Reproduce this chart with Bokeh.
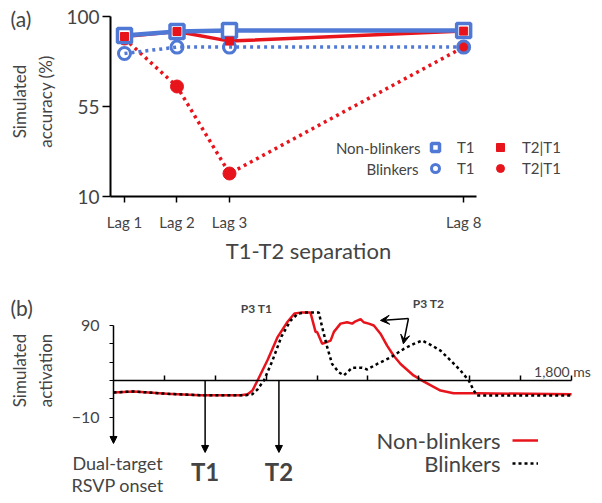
import math
from bokeh.plotting import figure
from bokeh.layouts import column
from bokeh.models import (FixedTicker, Label, Legend, LegendItem, Arrow,
                          NormalHead, VeeHead, Range1d)
from bokeh.embed import file_html
from bokeh.resources import INLINE

FONT = "Lato"
BLUE = "#5079d6"
RED = "#e8141c"

# ---------------- panel (a) data ----------------
lag_labels = ["Lag 1", "Lag 2", "Lag 3", "Lag 8"]
lag_pos = [1, 2, 3, 7.46]
acc_ticks = [10, 55, 100]
nb_t1 = [90.5, 92.5, 93, 93]
nb_t2 = [90, 92.5, 87.7, 92.7]
b_t1 = [81.5, 84.7, 84.7, 84.7]
b_t2 = [89, 65, 21.5, 84.7]

# ---------------- panel (b) data ----------------
t_nb = [0, 80, 210, 340, 500, 527, 546, 566, 605, 644, 684, 711, 735, 774, 794,
        800, 820, 853, 866, 892, 918, 938, 951, 971, 983, 1003, 1023, 1049, 1075,
        1101, 1128, 1179, 1218, 1285, 1336, 1430, 1800]
v_nb = [17, 18, 15.5, 14, 14, 15, 19, 30, 52, 77, 94, 103, 104, 104, 83,
        83, 70, 73.5, 83, 92, 93.5, 92, 94.5, 97, 93.5, 92, 90, 81, 68,
        57, 48, 35.5, 29, 19, 16, 16, 15]
t_b = [0, 80, 210, 340, 520, 545, 565, 591, 625, 660, 695, 725, 750, 807, 820,
       840, 859, 885, 905, 938, 977, 997, 1036, 1088, 1141, 1180, 1213, 1252,
       1285, 1324, 1363, 1396, 1416, 1429, 1800]
v_b = [17, 18, 15.5, 14, 14, 15, 20, 30, 52, 78, 95, 103, 104, 104, 88,
       66, 48, 39, 35.5, 44, 44, 42, 48, 55, 64.5, 70, 73.5, 68,
       62.5, 52, 41, 30, 19, 13.5, 13.5]
act_ticks = [-10, 90]
act_minor = [10, 30, 50, 70]
time_ticks = [200, 400, 600, 800, 1000, 1200, 1400, 1600, 1800]
baseline = 30
t1_time = 360
t2_time = 650


def style_axis(a, lw, tick_lw, out, inn, standoff, font_size):
    a.axis_line_width = lw
    a.major_tick_line_width = tick_lw
    a.major_tick_out = out
    a.major_tick_in = inn
    a.minor_tick_line_color = None
    a.major_label_standoff = standoff
    a.major_label_text_font = FONT
    a.major_label_text_font_size = font_size


# ================= figure (a) =================
fa = figure(width=600, height=266, output_backend="svg", toolbar_location=None,
            x_range=Range1d(-1.3619, 10.067), y_range=Range1d(-25, 108),
            min_border_left=0, min_border_right=0, min_border_top=0,
            min_border_bottom=0)
fa.outline_line_color = None
fa.xgrid.visible = False
fa.ygrid.visible = False

fa.line(lag_pos, b_t2, color=RED, line_width=3.5, line_dash="3 4")
fa.line(lag_pos, nb_t2, color=RED, line_width=3.5)
fa.line(lag_pos, b_t1, color=BLUE, line_width=3.5, line_dash="3 4")
fa.line(lag_pos, nb_t1, color=BLUE, line_width=4.5)
s_b2 = fa.scatter(lag_pos, b_t2, marker="circle", size=13, color=RED)
s_b1 = fa.scatter(lag_pos, b_t1, marker="circle", size=12, line_color=BLUE,
                  line_width=3, fill_color=None)
s_nb1 = fa.scatter(lag_pos, nb_t1, marker="square", size=14, line_color=BLUE,
                   line_width=3.5, fill_color="white")
s_nb2 = fa.scatter(lag_pos, nb_t2, marker="square", size=8, color=RED)

ax = fa.xaxis[0]
ax.fixed_location = 10
ax.ticker = FixedTicker(ticks=lag_pos)
ax.major_label_overrides = dict(zip(lag_pos, lag_labels))
ax.bounds = (0.7333, 7.705)
style_axis(ax, 2, 1.5, 6, 0, 10, "15px")

ay = fa.yaxis[0]
ay.fixed_location = 0.7333
ay.bounds = (10, 100)
ay.ticker = FixedTicker(ticks=acc_ticks)
style_axis(ay, 2, 1.5, 8, 0, 3, "19px")

fa.add_layout(Label(x=-1.171, y=99, text="(a)", text_font=FONT,
                    text_font_size="21px", text_baseline="middle"))
fa.add_layout(Label(x=-0.752, y=57.5, text="Simulated\naccuracy (%)",
                    text_font=FONT, text_font_size="17px", text_align="center",
                    text_baseline="middle", angle=math.pi / 2))
fa.add_layout(Label(x=4.505, y=-17, text="T1-T2 separation", text_font=FONT,
                    text_font_size="22px", text_align="center",
                    text_baseline="middle"))
fa.add_layout(Label(x=6.638, y=34.5, text="Non-blinkers", text_font=FONT,
                    text_font_size="15px", text_align="right",
                    text_baseline="middle"))
fa.add_layout(Label(x=6.6, y=24, text="Blinkers", text_font=FONT,
                    text_font_size="15px", text_align="right",
                    text_baseline="middle"))


def mk_legend(items, loc):
    return Legend(items=items, location=loc, padding=0, margin=0, spacing=1,
                  glyph_width=20, glyph_height=20, label_height=20,
                  label_standoff=12, label_text_font=FONT,
                  label_text_font_size="15px", border_line_color=None,
                  background_fill_alpha=0)


fa.add_layout(mk_legend([LegendItem(label="T1", renderers=[s_nb1]),
                         LegendItem(label="T1", renderers=[s_b1])], (425, 88)))
fa.add_layout(mk_legend([LegendItem(label="T2|T1", renderers=[s_nb2]),
                         LegendItem(label="T2|T1", renderers=[s_b2])], (490, 88)))

# ================= figure (b) =================
fb = figure(width=600, height=232, output_backend="svg", toolbar_location=None,
            x_range=Range1d(-444.0, 1913.6), y_range=Range1d(-98.7, 154.3),
            min_border_left=0, min_border_right=0, min_border_top=0,
            min_border_bottom=0)
fb.outline_line_color = None
fb.xgrid.visible = False
fb.ygrid.visible = False

r_nb = fb.line(t_nb, v_nb, color=RED, line_width=2.5)
r_b = fb.line(t_b, v_b, color="black", line_width=2.5, line_dash="3 3")

bx = fb.xaxis[0]
bx.fixed_location = baseline
bx.bounds = (0, 1800)
bx.ticker = FixedTicker(ticks=[], minor_ticks=time_ticks)
style_axis(bx, 1.5, 1.5, 0, 5, 0, "12px")
bx.minor_tick_line_color = "black"
bx.minor_tick_line_width = 1.5
bx.minor_tick_in = 5
bx.minor_tick_out = 0

by = fb.yaxis[0]
by.fixed_location = 0
by.bounds = (-10, 90)
by.ticker = FixedTicker(ticks=act_ticks, minor_ticks=act_minor)
style_axis(by, 1.5, 1.2, 4, 0, 10, "16px")
by.minor_tick_line_color = "black"
by.minor_tick_line_width = 1.2
by.minor_tick_out = 4
by.minor_tick_in = 0


def head():
    return NormalHead(size=7, fill_color="black", line_color="black")


fb.add_layout(Arrow(x_start=0, y_start=-10, x_end=0, y_end=-38.7, end=head(),
                    line_width=1.5))
fb.add_layout(Arrow(x_start=t1_time, y_start=baseline, x_end=t1_time, y_end=-48.5,
                    end=head(), line_width=1.5))
fb.add_layout(Arrow(x_start=t2_time, y_start=baseline, x_end=t2_time, y_end=-48.5,
                    end=head(), line_width=1.5))
fb.add_layout(Arrow(x_start=1159, y_start=97.6, x_end=1049, y_end=95.5,
                    end=VeeHead(size=9, fill_color="black"), line_width=1.5))
fb.add_layout(Arrow(x_start=1159, y_start=97.6, x_end=1139, y_end=70,
                    end=VeeHead(size=9, fill_color="black"), line_width=1.5))


def lab(x, y, text, size, align="center", style="normal", angle=0):
    fb.add_layout(Label(x=x, y=y, text=text, text_font=FONT,
                        text_font_size=size, text_align=align,
                        text_baseline="middle", text_font_style=style,
                        angle=angle))


lab(-405, 109.6, "(b)", "21px", align="left")
lab(-318, 40.9, "Simulated\nactivation", "17px", angle=math.pi / 2)
lab(562, 108.5, "P3 T1", "12px", style="bold")
lab(1238, 114, "P3 T2", "12px", style="bold")
lab(1764, 40, "1,800 ms", "14px")
lab(16, -60.5, "Dual-target", "18px")
lab(16, -83.5, "RSVP onset", "18px")
lab(t1_time, -69.2, "T1", "24px", style="bold")
lab(t2_time, -69.2, "T2", "24px", style="bold")
lab(1521, -35.4, "Non-blinkers", "22px", align="right")
lab(1521, -60.5, "Blinkers", "22px", align="right")

lgb = Legend(items=[LegendItem(label=" ", renderers=[r_nb]),
                    LegendItem(label=" ", renderers=[r_b])],
             location=(512, 25), padding=0, margin=0, spacing=3,
             glyph_width=26, glyph_height=20, label_height=20, label_width=0,
             label_standoff=0, label_text_font_size="10px",
             border_line_color=None, background_fill_alpha=0)
fb.add_layout(lgb)

layout = column(fa, fb)
open("out.html", "w").write(file_html(layout, INLINE))
